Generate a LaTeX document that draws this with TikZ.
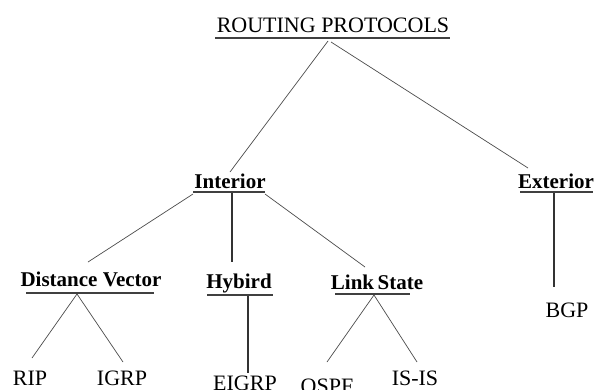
\documentclass[tikz,border=0pt]{standalone}
\usepackage{fontspec}
\setmainfont{Liberation Serif}
\begin{document}
\begin{tikzpicture}[x=1pt,y=-1pt,
  lbl/.style={anchor=base,inner sep=0pt,font=\fontsize{22}{24}\selectfont},
  mid/.style={anchor=base,inner sep=0pt,font=\fontsize{21}{23}\selectfont\bfseries},
  uline/.style={draw=black!75,line width=1.3pt},
  conn/.style={draw=black!70,line width=0.7pt},
  vconn/.style={draw=black!80,line width=1.1pt}]
\useasboundingbox[fill=white] (0,0) rectangle (599,389);
% labels
\node[lbl] (title) at (333,32) {ROUTING PROTOCOLS};
\node[mid] (int) at (230,188) {Interior};
\node[mid] (ext) at (556,188) {Exterior};
\node[mid] (dv) at (91,286) {Distance Vector};
\node[mid] (hyb) at (239,288) {Hybird};
\node[mid] (ls) at (377,289) {Link\,State};
\node[lbl] (rip) at (30,385) {RIP};
\node[lbl] (igrp) at (122,385) {IGRP};
\node[lbl] (eigrp) at (245,390) {EIGRP};
\node[lbl] (ospf) at (327,393) {OSPF};
\node[lbl] (isis) at (415,385) {IS-IS};
\node[lbl] (bgp) at (567,317) {BGP};
% underlines
\coordinate (tl) at (215,38); \coordinate (tr) at (450,38);
\coordinate (il) at (193,192); \coordinate (ir) at (265,192);
\coordinate (el) at (520,192); \coordinate (er) at (593,192);
\coordinate (dl) at (26,293); \coordinate (dr) at (154,293);
\coordinate (hl) at (207,295); \coordinate (hr) at (273,295);
\coordinate (sl) at (335,294); \coordinate (sr) at (410,294);
\draw[uline] (tl) -- (tr);
\draw[uline] (il) -- (ir);
\draw[uline] (el) -- (er);
\draw[uline] (dl) -- (dr);
\draw[uline] (hl) -- (hr);
\draw[uline] (sl) -- (sr);
% connector anchors
\coordinate (tapx) at (328,41);
\coordinate (tapx2) at (331,42);
\coordinate (intTop) at (230,172);
\coordinate (extTop) at (528,168);
\coordinate (ilo) at (193,194);
\coordinate (imid) at (232,193);
\coordinate (iro) at (265,194);
\coordinate (dvTop) at (88,262);
\coordinate (hybTop) at (232,262);
\coordinate (lsTop) at (365,267);
\coordinate (emid) at (554,193);
\coordinate (eEnd) at (554,287);
\coordinate (dapx) at (77,294);
\coordinate (ripTop) at (32,358);
\coordinate (igrpTop) at (123,362);
\coordinate (hapx) at (248,296);
\coordinate (eigrpTop) at (248,373);
\coordinate (sapx) at (374,295);
\coordinate (ospfTop) at (327,362);
\coordinate (isisTop) at (417,362);
% connectors
\draw[conn] (tapx) -- (intTop);
\draw[conn] (tapx2) -- (extTop);
\draw[conn] (ilo) -- (dvTop);
\draw[vconn] (imid) -- (hybTop);
\draw[conn] (iro) -- (lsTop);
\draw[vconn] (emid) -- (eEnd);
\draw[conn] (dapx) -- (ripTop);
\draw[conn] (dapx) -- (igrpTop);
\draw[vconn] (hapx) -- (eigrpTop);
\draw[conn] (sapx) -- (ospfTop);
\draw[conn] (sapx) -- (isisTop);
\end{tikzpicture}
\end{document}
